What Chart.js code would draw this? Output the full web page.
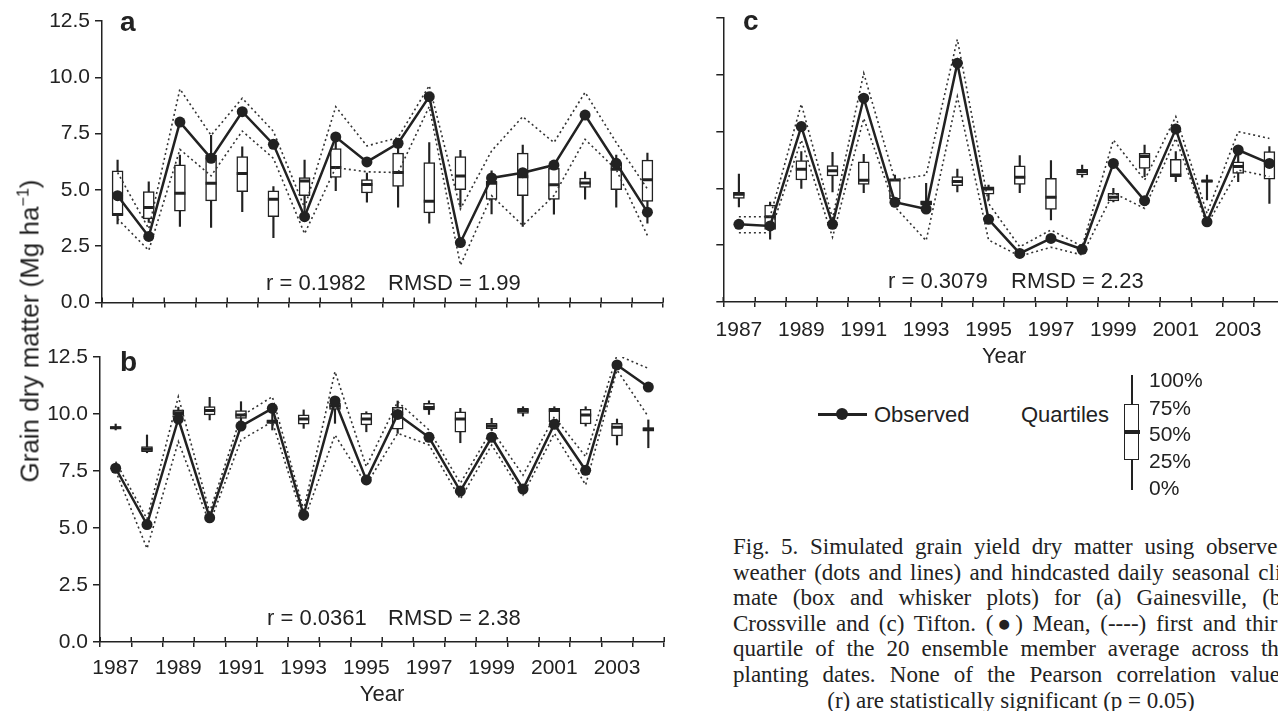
<!DOCTYPE html>
<html>
<head>
<meta charset="utf-8">
<script src="https://cdn.jsdelivr.net/npm/chart.js@4"></script>
<style>
  html, body { margin: 0; padding: 0; background: #fff; }
  body { width: 1278px; height: 711px; position: relative; overflow: hidden;
         font-family: "Liberation Sans", Arial, sans-serif; color: #222; }
  .panel { position: absolute; }
  .abs { position: absolute; white-space: nowrap; line-height: 1; }
  .stat { font-size: 22px; transform: translateY(-50%); }
  .letter { font-size: 28px; font-weight: bold; transform: translateY(-50%); }
  .pct { font-size: 21px; transform: translateY(-50%); }
  #ytitle { position: absolute; left: 30px; top: 331px; font-size: 26px; white-space: nowrap;
            transform: translate(-50%, -50%) rotate(-90deg); }
  #ytitle sup { font-size: 0.62em; vertical-align: super; line-height: 0; }
  #caption { position: absolute; left: 733px; top: 534px; width: 556px;
             font-family: "Liberation Serif", "Times New Roman", serif; font-size: 23px; line-height: 25.6px; color: #222; }
  #caption div { text-align: justify; text-align-last: justify; }
  #caption div.last { text-align: center; text-align-last: center; }
</style>
</head>
<body>

<div class="panel" style="left:0;top:0;width:690px;height:320px"><canvas id="panel-a"></canvas></div>
<div class="panel" style="left:0;top:330px;width:690px;height:381px"><canvas id="panel-b"></canvas></div>
<div class="panel" style="left:700px;top:0;width:620px;height:372px"><canvas id="panel-c"></canvas></div>

<div id="ytitle">Grain dry matter (Mg ha<sup>−1</sup>)</div>

<div class="abs letter" style="left:120px;top:22px">a</div>
<div class="abs letter" style="left:120px;top:362px">b</div>
<div class="abs letter" style="left:743px;top:21px">c</div>

<div class="abs stat" style="left:266px;top:283px">r = 0.1982</div>
<div class="abs stat" style="left:388px;top:283px">RMSD = 1.99</div>
<div class="abs stat" style="left:267px;top:618px">r = 0.0361</div>
<div class="abs stat" style="left:388px;top:618px">RMSD = 2.38</div>
<div class="abs stat" style="left:888px;top:281px">r = 0.3079</div>
<div class="abs stat" style="left:1011px;top:281px">RMSD = 2.23</div>

<!-- legend -->
<div class="abs" style="left:818px;top:413px;width:49px;height:2.5px;background:#222"></div>
<div class="abs" style="left:836px;top:408px;width:12px;height:12px;border-radius:50%;background:#222"></div>
<div class="abs pct" style="left:874px;top:415px;font-size:22px">Observed</div>
<div class="abs pct" style="left:1021px;top:415px;font-size:22px">Quartiles</div>
<div class="abs" style="left:1131px;top:375px;width:1.5px;height:115px;background:#222"></div>
<div class="abs" style="left:1124px;top:404px;width:12.5px;height:53.5px;border:1.5px solid #222;background:#fff"></div>
<div class="abs" style="left:1124px;top:430px;width:15.5px;height:3.5px;background:#222"></div>
<div class="abs pct" style="left:1149px;top:379px">100%</div>
<div class="abs pct" style="left:1149px;top:407px">75%</div>
<div class="abs pct" style="left:1149px;top:433px">50%</div>
<div class="abs pct" style="left:1149px;top:460px">25%</div>
<div class="abs pct" style="left:1149px;top:487px">0%</div>

<div id="caption">
  <div>Fig. 5. Simulated grain yield dry matter using observed</div>
  <div>weather (dots and lines) and hindcasted daily seasonal cli-</div>
  <div>mate (box and whisker plots) for (a) Gainesville, (b)</div>
  <div>Crossville and (c) Tifton. (●) Mean, (----) first and third</div>
  <div>quartile of the 20 ensemble member average across the</div>
  <div>planting dates. None of the Pearson correlation values</div>
  <div class="last">(r) are statistically significant (p = 0.05)</div>
</div>

<script>
// years on the x axis
const years = ["1987", "1988", "1989", "1990", "1991", "1992", "1993", "1994", "1995",
  "1996", "1997", "1998", "1999", "2000", "2001", "2002", "2003", "2004"];
const yTicks = [0, 2.5, 5, 7.5, 10, 12.5];

// (a) Gainesville
const observedA = [4.74, 2.93, 8.01, 6.40, 8.47, 7.02, 3.81, 7.35, 6.24, 7.07, 9.14, 2.66, 5.53, 5.76, 6.10, 8.32, 6.18, 4.01];
const upperA = [5.77, 3.27, 9.48, 7.42, 9.07, 7.60, 4.20, 8.69, 6.95, 7.32, 9.63, 4.15, 6.73, 8.25, 7.10, 9.33, 7.10, 5.04];
const lowerA = [3.71, 2.31, 6.80, 5.62, 7.61, 6.40, 3.05, 5.99, 5.80, 5.77, 8.70, 1.65, 4.74, 3.42, 4.74, 7.24, 5.90, 2.97];
const minA = [3.49, 3.55, 3.37, 3.33, 4.03, 2.87, 3.86, 4.96, 4.45, 4.23, 3.52, 4.23, 3.93, 3.37, 3.92, 4.59, 4.23, 3.52];
const q1A = [3.86, 3.71, 4.05, 4.51, 4.92, 3.81, 4.74, 5.55, 4.86, 5.15, 3.98, 5.01, 4.58, 4.74, 4.58, 5.11, 5.01, 4.49];
const medA = [3.90, 4.21, 4.85, 5.29, 5.73, 4.58, 5.39, 5.99, 5.24, 5.77, 4.49, 5.62, 5.29, 5.58, 5.23, 5.30, 5.92, 5.45];
const q3A = [5.84, 4.92, 6.11, 6.54, 6.48, 4.96, 5.55, 6.83, 5.46, 6.63, 6.21, 6.48, 5.39, 6.63, 5.95, 5.52, 6.21, 6.32];
const maxA = [6.32, 5.36, 6.54, 7.42, 6.91, 5.14, 6.32, 7.17, 5.74, 6.90, 7.10, 6.76, 5.84, 6.99, 6.21, 5.80, 6.54, 6.63];

// (b) Crossville
const observedB = [7.62, 5.15, 9.78, 5.45, 9.47, 10.25, 5.57, 10.57, 7.11, 9.98, 8.98, 6.62, 8.98, 6.71, 9.55, 7.53, 12.15, 11.18];
const upperB = [7.91, 5.40, 10.76, 5.70, 9.90, 10.76, 5.80, 11.86, 7.69, 10.54, 9.30, 6.96, 9.30, 7.32, 9.88, 8.13, 12.59, 12.00];
const lowerB = [7.50, 4.10, 8.79, 5.20, 8.86, 9.66, 5.30, 9.08, 6.90, 9.15, 8.64, 6.27, 8.64, 6.45, 9.15, 6.89, 11.93, 9.88];
const minB = [9.30, 8.30, 9.85, 9.74, 9.66, 9.30, 9.37, 9.59, 9.22, 9.15, 9.98, 8.74, 9.30, 9.91, 9.50, 9.47, 8.64, 8.52];
const q1B = [9.36, 8.35, 9.95, 9.96, 9.81, 9.59, 9.55, 10.20, 9.52, 9.33, 10.18, 9.20, 9.36, 10.03, 9.66, 9.56, 9.04, 9.25];
const medB = [9.40, 8.45, 10.05, 10.15, 9.96, 9.66, 9.78, 10.35, 9.78, 10.03, 10.29, 9.78, 9.47, 10.15, 10.15, 9.96, 9.42, 9.33];
const q3B = [9.45, 8.57, 10.18, 10.32, 10.15, 9.74, 9.96, 10.47, 10.03, 10.29, 10.47, 10.10, 9.59, 10.25, 10.25, 10.20, 9.59, 9.40];
const maxB = [9.56, 9.08, 10.30, 10.73, 10.54, 10.10, 10.18, 10.61, 10.10, 10.57, 10.58, 10.25, 9.81, 10.32, 10.32, 10.32, 9.78, 9.74];

// (c) Tifton
const observedC = [3.42, 3.35, 7.72, 3.42, 8.97, 4.39, 4.09, 10.51, 3.64, 2.14, 2.80, 2.32, 6.10, 4.46, 7.61, 3.53, 6.69, 6.10];
const upperC = [3.75, 3.75, 8.71, 3.68, 10.07, 5.37, 5.59, 11.56, 4.34, 2.43, 3.17, 2.45, 7.13, 5.37, 8.16, 3.90, 7.50, 7.20];
const lowerC = [3.05, 3.05, 7.13, 2.85, 8.08, 4.19, 2.70, 9.04, 2.73, 2.02, 2.41, 2.07, 4.80, 4.12, 7.20, 3.39, 5.81, 5.52];
const minC = [4.19, 2.76, 5.00, 4.85, 4.81, 4.27, 4.12, 4.85, 4.49, 4.81, 3.61, 5.49, 4.41, 5.52, 5.30, 4.49, 5.30, 4.34];
const q1C = [4.56, 3.20, 5.37, 5.55, 5.18, 4.53, 4.27, 5.12, 4.75, 5.18, 4.08, 5.59, 4.45, 5.88, 5.52, 5.27, 5.66, 5.41];
const medC = [4.74, 3.75, 5.84, 5.78, 5.36, 5.37, 4.37, 5.30, 4.97, 5.49, 4.61, 5.74, 4.61, 6.40, 5.59, 5.33, 5.96, 6.10];
const q3C = [4.83, 4.27, 6.22, 6.00, 6.17, 5.41, 4.45, 5.52, 5.07, 5.99, 5.44, 5.84, 4.78, 6.54, 6.28, 5.37, 6.17, 6.62];
const maxC = [5.63, 4.40, 6.62, 6.59, 6.50, 5.59, 5.22, 5.85, 5.15, 6.44, 6.22, 6.03, 5.00, 6.91, 6.62, 5.59, 6.47, 6.84];

const ink = "#222";
const sans = "'Liberation Sans', Arial, sans-serif";

// short tick marks inside the plot on the x axis (the figure's ticks cross the axis)
const innerTicks = {
  id: "innerTicks",
  afterDraw(chart) {
    const { ctx } = chart;
    const x = chart.scales.x;
    const n = years.length;
    const step = x.getPixelForValue(1) - x.getPixelForValue(0);
    const start = x.getPixelForValue(0) - step / 2;
    ctx.save();
    ctx.strokeStyle = ink;
    ctx.lineWidth = 1.5;
    for (let i = 0; i <= n; i++) {
      const px = Math.round(start + i * step) + 0.25;
      ctx.beginPath();
      ctx.moveTo(px, x.top);
      ctx.lineTo(px, x.top - 5);
      ctx.stroke();
    }
    ctx.restore();
  },
};

const pairs = (lo, hi) => lo.map((v, i) => [v, hi[i]]);

function makeDatasets(observed, upper, lower, min, q1, med, q3, max) {
  return [
    {
      type: "line",
      data: observed,
      borderColor: ink,
      borderWidth: 2.5,
      pointRadius: 5.5,
      pointBackgroundColor: ink,
      pointBorderWidth: 0,
      tension: 0,
      order: 0,
    },
    {
      type: "line",
      data: upper,
      borderColor: "#333",
      borderWidth: 1.6,
      borderDash: [2, 3],
      pointRadius: 0,
      tension: 0,
      order: 1,
    },
    {
      type: "line",
      data: lower,
      borderColor: "#333",
      borderWidth: 1.6,
      borderDash: [2, 3],
      pointRadius: 0,
      tension: 0,
      order: 1,
    },
    {
      type: "line",
      data: med,
      showLine: false,
      pointStyle: "line",
      pointRadius: 5.5,
      pointBorderWidth: 3,
      pointBorderColor: ink,
      order: 2,
    },
    {
      type: "bar",
      data: pairs(q1, q3),
      backgroundColor: "#fff",
      borderColor: ink,
      borderWidth: 1.5,
      borderSkipped: false,
      barThickness: 11,
      grouped: false,
      order: 3,
    },
    {
      type: "bar",
      data: pairs(min, max),
      backgroundColor: ink,
      borderWidth: 0,
      barThickness: 1.5,
      grouped: false,
      order: 4,
    },
  ];
}

function makeOptions({ yWidth, xHeight, padding, showX, showY, tickPad, titlePad }) {
  return {
    animation: false,
    responsive: true,
    maintainAspectRatio: false,
    layout: { padding },
    plugins: { legend: { display: false }, tooltip: { enabled: false } },
    scales: {
      x: {
        type: "category",
        offset: true,
        grid: { offset: true, drawOnChartArea: false, tickLength: 5, color: ink, lineWidth: 1.5 },
        border: { color: ink, width: 1.5 },
        ticks: {
          display: showX,
          autoSkip: false,
          maxRotation: 0,
          padding: tickPad,
          color: ink,
          font: { family: sans, size: 21 },
          callback: (v, i) => (i % 2 === 0 ? years[i] : ""),
        },
        title: {
          display: showX,
          text: "Year",
          color: ink,
          font: { family: sans, size: 22 },
          padding: { top: 0, bottom: titlePad },
        },
        afterFit: (s) => { s.height = xHeight; },
      },
      y: {
        min: 0,
        max: 12.5,
        afterBuildTicks: (s) => { s.ticks = yTicks.map((v) => ({ value: v })); },
        grid: { drawOnChartArea: false, tickLength: 7, color: ink, lineWidth: 1.5 },
        border: { color: ink, width: 1.5 },
        ticks: {
          display: showY,
          padding: 5,
          color: ink,
          font: { family: sans, size: 21 },
          callback: (v) => v.toFixed(1),
        },
        afterFit: (s) => { s.width = yWidth; },
      },
    },
  };
}

// Gainesville
new Chart(document.getElementById("panel-a"), {
  type: "bar",
  data: { labels: years, datasets: makeDatasets(observedA, upperA, lowerA, minA, q1A, medA, q3A, maxA) },
  options: makeOptions({ yWidth: 102, xHeight: 16, padding: { top: 21, right: 27 }, showX: false, showY: true, tickPad: 9, titlePad: 0 }),
  plugins: [innerTicks],
});

// Crossville
new Chart(document.getElementById("panel-b"), {
  type: "bar",
  data: { labels: years, datasets: makeDatasets(observedB, upperB, lowerB, minB, q1B, medB, q3B, maxB) },
  options: makeOptions({ yWidth: 100, xHeight: 69, padding: { top: 27, right: 26 }, showX: true, showY: true, tickPad: 9, titlePad: 3 }),
  plugins: [innerTicks],
});

// Tifton
new Chart(document.getElementById("panel-c"), {
  type: "bar",
  data: { labels: years, datasets: makeDatasets(observedC, upperC, lowerC, minC, q1C, medC, q3C, maxC) },
  options: makeOptions({ yWidth: 23.3, xHeight: 70, padding: { top: 18, right: 35 }, showX: true, showY: false, tickPad: 11, titlePad: 2 }),
  plugins: [innerTicks],
});
</script>
</body>
</html>
